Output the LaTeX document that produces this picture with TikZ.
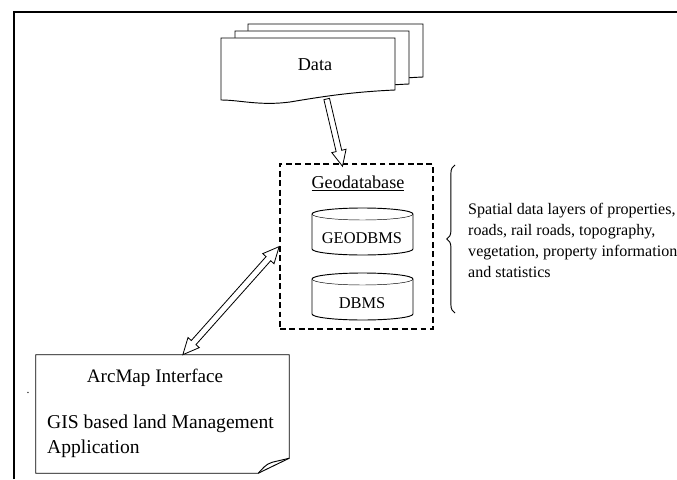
\documentclass[tikz,border=0pt]{standalone}
\usepackage{fontspec}
\setmainfont{Liberation Serif}
\usepackage{tikz}
\usetikzlibrary{calc}
\usetikzlibrary{
    shapes.arrows,
    decorations.pathreplacing
}

\begin{document}
\begin{tikzpicture}[x=0.03cm, y=0.03cm,
    sheet/.style={draw, fill=white, line width=0.8pt},
    drum/.style={draw, fill=white, line width=0.8pt},
    hollowarrow/.style={single arrow, draw, fill=white, line width=0.7pt, inner xsep=0pt, inner ysep=2.1pt,
        single arrow head extend=3.8pt, single arrow tip angle=50},
    twoway/.style={double arrow, draw, fill=white, line width=0.7pt, inner xsep=0pt, inner ysep=2.3pt,
        double arrow head extend=3.8pt, double arrow tip angle=50}]
    \useasboundingbox (0,0) rectangle (677,-479);

    % Cadre
    \draw[line width=1.6pt] (14,-479) -- (14,-12) -- (677,-12);

    % Pile de documents
    \draw[sheet] (248,-24) -- (423,-24) -- (423,-77) .. controls (378,-79) and (348,-84) .. (318,-89) .. controls (288,-93) and (268,-87) .. (248,-87) -- cycle;
    \draw[sheet] (235,-31) -- (409,-31) -- (409,-84) .. controls (364,-86) and (334,-91) .. (304,-96) .. controls (274,-100) and (254,-94) .. (235,-94) -- cycle;
    \draw[sheet] (221,-38) -- (395,-38) -- (395,-90) .. controls (350,-92) and (320,-97) .. (290,-102) .. controls (260,-106) and (240,-100) .. (221,-100) -- cycle;
    \node[font=\fontsize{15.5}{18}\selectfont] (data) at (315,-65) {Data};
    \coordinate (databot) at (326,-96);

    % Geodatabase
    \node[draw, dash pattern=on 5pt off 3pt, line width=1.3pt,
        minimum width=4.59cm, minimum height=4.95cm] (geo) at (356.5,-246.5) {};
    \node[font=\fontsize{15.5}{18}\selectfont] (geotitle) at (358,-183) {\underline{Geodatabase}};

    % Cylindres
    \draw[drum] (312,-214) -- (312,-249) arc[start angle=180, end angle=360, x radius=50.5, y radius=6]
        -- (413,-214) arc[start angle=0, end angle=180, x radius=50.5, y radius=6] -- cycle;
    \draw (312,-214) arc[start angle=180, end angle=360, x radius=50.5, y radius=6];
    \node[font=\fontsize{14}{16}\selectfont] (geodbms) at (362,-238) {GEODBMS};

    \draw[drum] (312,-279) -- (312,-314) arc[start angle=180, end angle=360, x radius=50.5, y radius=6]
        -- (413,-279) arc[start angle=0, end angle=180, x radius=50.5, y radius=6] -- cycle;
    \draw (312,-279) arc[start angle=180, end angle=360, x radius=50.5, y radius=6];
    \node[font=\fontsize{14}{16}\selectfont] (dbms) at (362,-303) {DBMS};

    % Accolade et description
    \draw[decorate, decoration={brace, amplitude=7pt}, line width=0.8pt] (455,-313) -- (455,-165);
    \node[anchor=west, align=left, inner sep=0pt, font=\fontsize{13.7}{17.9}\selectfont] (layers) at (468,-240)
        {Spatial data layers of properties,\\ roads, rail roads, topography,\\ vegetation, property information\\ and statistics};

    % Application
    \node[minimum width=7.59cm, minimum height=3.54cm] (app) at (162.5,-414) {};
    \draw[line width=0.8pt] (app.north west) -- (app.north east) -- ($(app.south east)+(0,15)$)
        -- ($(app.south east)+(-31,0)$) -- (app.south west) -- cycle;
    \draw[line width=0.8pt] ($(app.south east)+(0,15)$) -- ($(app.south east)+(-17,11)$)
        .. controls ($(app.south east)+(-24,9)$) and ($(app.south east)+(-27,4)$) .. ($(app.south east)+(-31,0)$);
    \node[font=\fontsize{16.3}{20}\selectfont] (arcmap) at (155,-378) {ArcMap Interface};
    \node[anchor=west, align=left, inner sep=0pt, font=\fontsize{16.7}{21}\selectfont] (gis) at (47,-436)
        {GIS based land Management\\Application};
    \node (stray) at (28,-393) {.};

    % Fleches
    \coordinate (geotop) at ($(geo.north west)!0.405!(geo.north east)$);
    \path let \p1=($(geotop)-(databot)$) in
        node[hollowarrow, minimum height={veclen(\x1,\y1)}, rotate={atan2(\y1,\x1)}] (feed)
        at ($(databot)!0.5!(geotop)$) {};
    \coordinate (appin) at ($(app.north west)!0.58!(app.north east)$);
    \path let \p1=($(geo.west)-(appin)$) in
        node[twoway, minimum height={veclen(\x1,\y1)}, rotate={atan2(\y1,\x1)}] (link)
        at ($(appin)!0.5!(geo.west)$) {};
\end{tikzpicture}
\end{document}
